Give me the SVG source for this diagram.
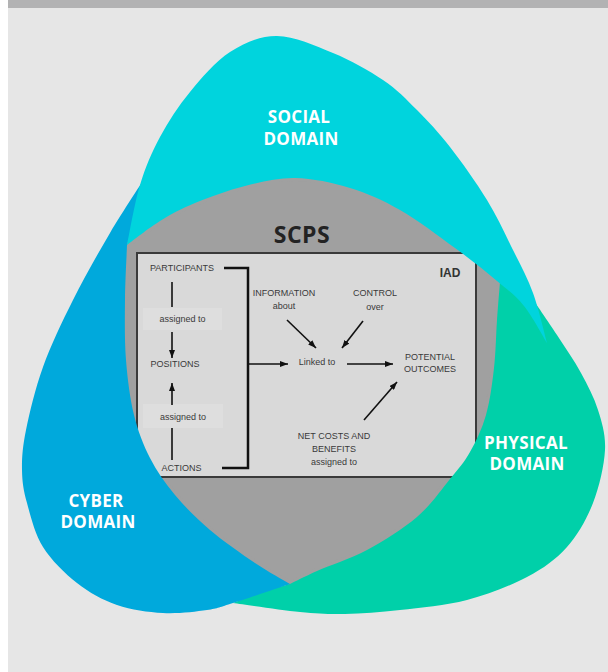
<svg xmlns="http://www.w3.org/2000/svg" width="608" height="672" viewBox="0 0 608 672">
<defs>
<marker id="ah" viewBox="0 0 8 6" refX="8" refY="3" markerWidth="8" markerHeight="6" markerUnits="userSpaceOnUse" orient="auto"><path d="M0,0 L8,3 L0,6 z" fill="#111"/></marker>
<style>
.t{font-family:"Liberation Sans",Arial,sans-serif;font-size:9px;fill:#3a3a3a;text-anchor:middle}
.dom{font-family:"Open Sans","Liberation Sans",sans-serif;font-weight:700;font-size:17px;fill:#ffffff;text-anchor:middle;letter-spacing:0.3px}
.ln{stroke:#111;stroke-width:1.6;fill:none}
.ar{stroke:#111;stroke-width:1.6;fill:none;marker-end:url(#ah)}
.ab{fill:#dedede}
</style>
</defs>
<rect x="0" y="0" width="608" height="672" fill="#ffffff"/>
<rect x="8" y="0" width="600" height="672" fill="#e6e6e6"/>
<rect x="8" y="0" width="600" height="8" fill="#b2b2b3"/>

<g id="scps">
<path fill="#a0a0a0" stroke="#a0a0a0" stroke-width="6" stroke-linejoin="round" d="M127,245 C132.5,241 148.7,228 160,221 C171.3,214 180.8,208.8 195,203 C209.2,197.2 228.3,190.2 245,186 C261.7,181.8 277.5,177.7 295,178 C312.5,178.3 332.5,182.7 350,188 C367.5,193.3 382.5,200 400,210 C417.5,220 438.8,236.2 455,248 C471.2,259.8 485.5,271.3 497,281 L500,282 C499.5,288.3 498,305.7 497,320 C496,334.3 495.8,352.2 494,368 C492.2,383.8 490,401 486,415 C482,429 476,441.3 470,452 C464,462.7 458.8,468.2 450,479 C441.2,489.8 430.8,505.2 417,517 C403.2,528.8 383.7,541 367,550 C350.3,559 329.8,565.3 317,571 C304.2,576.7 294.5,581.8 290,584 C284.2,580.5 268.3,572 255,563 C241.7,554 223.3,541.3 210,530 C196.7,518.7 185,507 175,495 C165,483 156.8,471.3 150,458 C143.2,444.7 138,431.3 134,415 C130,398.7 127.5,379.2 126,360 C124.5,340.8 124.8,319.2 125,300 C125.2,280.8 126.7,254.2 127,245 Z"/>
<text x="302" y="243" font-family="'Open Sans','Liberation Sans',sans-serif" font-weight="700" font-size="23" fill="#232323" text-anchor="middle" letter-spacing="0.5">SCPS</text>
</g>

<g id="iad">
<rect x="137" y="253" width="339" height="224" fill="#d9d9d9" stroke="#3a3a3a" stroke-width="2"/>
<text x="450" y="277" font-family="'Liberation Sans',Arial,sans-serif" font-weight="700" font-size="12" fill="#333" text-anchor="middle">IAD</text>
</g>
<g id="participants"><text class="t" x="182" y="271">PARTICIPANTS</text></g>
<g id="assigned1"><rect class="ab" x="143" y="308" width="79" height="22"/><text class="t" x="182.5" y="322">assigned to</text></g>
<g id="positions"><text class="t" x="175" y="367">POSITIONS</text></g>
<g id="assigned2"><rect class="ab" x="143" y="404" width="80" height="24"/><text class="t" x="183" y="420">assigned to</text></g>
<g id="actions"><text class="t" x="181.5" y="471">ACTIONS</text></g>
<g id="information"><text class="t" x="284" y="296">INFORMATION</text><text class="t" x="284" y="309">about</text></g>
<g id="control"><text class="t" x="375" y="296">CONTROL</text><text class="t" x="375" y="310">over</text></g>
<g id="linked"><text class="t" x="317" y="365">Linked to</text></g>
<g id="outcomes"><text class="t" x="430" y="360">POTENTIAL</text><text class="t" x="430" y="372">OUTCOMES</text></g>
<g id="netcosts"><text class="t" x="334" y="439">NET COSTS AND</text><text class="t" x="334" y="452">BENEFITS</text><text class="t" x="334" y="465">assigned to</text></g>

<g id="connectors">
<line class="ln" x1="172" y1="282" x2="172" y2="307"/>
<line class="ar" x1="172" y1="332" x2="172" y2="358"/>
<line class="ar" x1="172" y1="405" x2="172" y2="383"/>
<line class="ln" x1="172" y1="428" x2="172" y2="460"/>
<polyline points="224,268 248,268 248,468 222,468" fill="none" stroke="#111" stroke-width="2.5"/>
<line class="ar" x1="249" y1="364" x2="288" y2="364"/>
<line class="ar" x1="287" y1="320" x2="316" y2="348"/>
<line class="ar" x1="363" y1="321" x2="342" y2="348"/>
<line class="ar" x1="347" y1="364" x2="393" y2="364"/>
<line class="ar" x1="364" y1="420" x2="397" y2="382"/>
</g>

<g id="physical">
<path fill="#00d0a9" d="M500,282 C499.5,288.3 498,305.7 497,320 C496,334.3 495.8,352.2 494,368 C492.2,383.8 490,401 486,415 C482,429 476,441.3 470,452 C464,462.7 458.8,468.2 450,479 C441.2,489.8 430.8,505.2 417,517 C403.2,528.8 383.7,541 367,550 C350.3,559 329.8,565.3 317,571 C304.2,576.7 294.5,581.8 290,584 L260,592 L233,603 C244.2,604.5 281.3,610.2 300,612 C318.7,613.8 328.3,614.3 345,614 C361.7,613.7 379.7,612.3 400,610 C420.3,607.7 445.8,605.5 467,600 C488.2,594.5 510.3,585.8 527,577 C543.7,568.2 556,559.3 567,547 C578,534.7 586.7,519.2 593,503 C599.3,486.8 604.2,465.5 605,450 C605.8,434.5 602,422.8 598,410 C594,397.2 587.8,385.5 581,373 C574.2,360.5 565.5,348 557,335 C548.5,322 534.5,301.7 530,295 L515,284 Z"/>
<text class="dom" x="526" y="449">PHYSICAL</text>
<text class="dom" x="527" y="470">DOMAIN</text>
</g>

<g id="cyber">
<path fill="#00a9dc" d="M290,584 C284.2,580.5 268.3,572 255,563 C241.7,554 223.3,541.3 210,530 C196.7,518.7 185,507 175,495 C165,483 156.8,471.3 150,458 C143.2,444.7 138,431.3 134,415 C130,398.7 127.5,379.2 126,360 C124.5,340.8 124.8,319.2 125,300 C125.2,280.8 126.7,254.2 127,245 L150,170 C143.3,180.5 122.8,211.3 110,233 C97.2,254.7 84.2,277.7 73,300 C61.8,322.3 50.8,345.3 43,367 C35.2,388.7 29.5,412.8 26,430 C22.5,447.2 21.8,457.8 22,470 C22.2,482.2 23.5,490.2 27,503 C30.5,515.8 34.7,533.7 43,547 C51.3,560.3 64.7,573.3 77,583 C89.3,592.7 102.7,600 117,605 C131.3,610 148,612.2 163,613 C178,613.8 195.3,611.7 207,610 C218.7,608.3 219.2,607.3 233,603 C246.8,598.7 280.5,587.2 290,584 Z"/>
<text class="dom" x="96" y="507">CYBER</text>
<text class="dom" x="98" y="528">DOMAIN</text>
</g>

<g id="social">
<path fill="#00d4dd" d="M127,245 C129.2,235 134.5,203 140,185 C145.5,167 151.7,152.5 160,137 C168.3,121.5 178.3,106.2 190,92 C201.7,77.8 215.5,61.3 230,52 C244.5,42.7 259.8,35.8 277,36 C294.2,36.2 315.3,45.7 333,53 C350.7,60.3 369,70.5 383,80 C397,89.5 405.8,98.8 417,110 C428.2,121.2 438.3,132 450,147 C461.7,162 476.5,182.8 487,200 C497.5,217.2 505.3,234.5 513,250 C520.7,265.5 527.3,277.5 533,293 C538.7,308.5 544.7,334.7 547,343 C543.2,336.8 532.3,316.3 524,306 C515.7,295.7 508.5,290.7 497,281 C485.5,271.3 471.2,259.8 455,248 C438.8,236.2 417.5,220 400,210 C382.5,200 367.5,193.3 350,188 C332.5,182.7 312.5,178.3 295,178 C277.5,177.7 261.7,181.8 245,186 C228.3,190.2 209.2,197.2 195,203 C180.8,208.8 171.3,214 160,221 C148.7,228 132.5,241 127,245 Z"/>
<text class="dom" x="299" y="123">SOCIAL</text>
<text class="dom" x="301" y="145">DOMAIN</text>
</g>
</svg>
